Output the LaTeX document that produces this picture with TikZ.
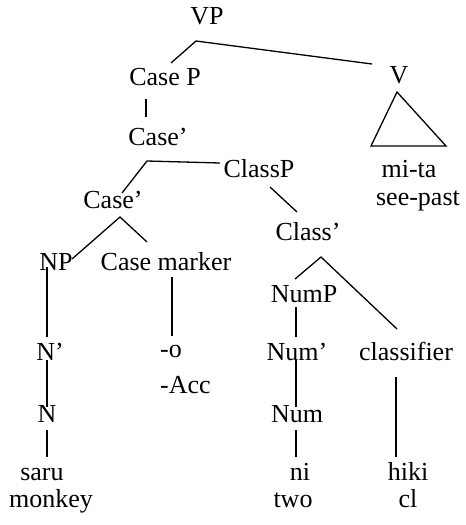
\documentclass[tikz,border=0pt]{standalone}
\usepackage{fontspec}
\setmainfont{Liberation Serif}
\usepackage{tikz}
\usetikzlibrary{positioning, calc}

\begin{document}
\begin{tikzpicture}[x=1pt, y=-1pt,
    word/.style={anchor=base, inner sep=0pt, font=\fontsize{26}{31}\selectfont},
    branch/.style={line width=1.3pt}]
          \useasboundingbox (0,0) rectangle (466,525);

          \node[word] (vp) at (207,24) {VP};
          \node[word] (casep) at (165,85) {Case P};
          \node[word] (v) at (399,83) {V};
          \node[word] (casebar1) at (158,145) {Case'};
          \node[word] (mita) at (409,177) {mi-ta};
          \node[word] (seepast) at (418,205) {see-past};
          \node[word] (classp) at (259,177) {ClassP};
          \node[word] (casebar2) at (113,208) {Case'};
          \node[word] (classbar) at (308,240) {Class'};
          \node[word] (np) at (56,270) {NP};
          \node[word] (casemarker) at (166,270) {Case marker};
          \node[word] (nump) at (304,302) {NumP};
          \node[word] (nbar) at (50,360) {N'};
          \node[word, anchor=base west] (o) at (160,357) {-o};
          \node[word, anchor=base west] (acc) at (160,393) {-Acc};
          \node[word] (numbar) at (297,360) {Num'};
          \node[word] (classifier) at (406,360) {classifier};
          \node[word] (n) at (47,422) {N};
          \node[word] (num) at (297,422) {Num};
          \node[word] (saru) at (42,480) {saru};
          \node[word] (monkey) at (51,507) {monkey};
          \node[word] (ni) at (300,480) {ni};
          \node[word] (two) at (293,507) {two};
          \node[word] (hiki) at (408,480) {hiki};
          \node[word] (cl) at (408,507) {cl};

          % upper part of the tree
          \draw[branch] ([shift={(6,-22)}]casep.base) -- ([shift={(-11,17)}]vp.base) -- ([shift={(-27,-19)}]v.base);
          \draw[branch] ([shift={(-19,14)}]casep.base) -- ([shift={(-12,-28)}]casebar1.base);
          \draw[branch] ([shift={(9,-15)}]casebar2.base) -- ([shift={(-11,16)}]casebar1.base) -- ([shift={(-39,-14)}]classp.base);
          \draw[branch] ([shift={(16,-11)}]np.base) -- ([shift={(7,9)}]casebar2.base) -- ([shift={(-19,-28)}]casemarker.base);
          \draw[branch] ([shift={(11,10)}]classp.base) -- ([shift={(-11,-28)}]classbar.base);
          \draw[branch] ([shift={(-9,-23)}]nump.base) -- ([shift={(13,17)}]classbar.base) -- ([shift={(-9,-31)}]classifier.base);
          \draw[branch] ([shift={(-2,9)}]v.base) -- ([shift={(-38,-31)}]mita.base) -- ([shift={(37,-31)}]mita.base) -- cycle;

          % lower part
          \draw[branch] ([shift={(-9,-3)}]np.base) -- ([shift={(-3,-23)}]nbar.base);
          \draw[branch] ([shift={(-3,0)}]nbar.base) -- ([shift={(0,-15)}]n.base);
          \draw[branch] ([shift={(0,8)}]n.base) -- ([shift={(5,-23)}]saru.base);
          \draw[branch] ([shift={(6,7)}]casemarker.base) -- ([shift={(12,-21)}]o.base west);
          \draw[branch] ([shift={(-8,5)}]nump.base) -- ([shift={(-1,-23)}]numbar.base);
          \draw[branch] ([shift={(-1,0)}]numbar.base) -- ([shift={(-1,-15)}]num.base);
          \draw[branch] ([shift={(-1,8)}]num.base) -- ([shift={(-4,-23)}]ni.base);
          \draw[branch] ([shift={(-10,17)}]classifier.base) -- ([shift={(-12,-23)}]hiki.base);
        \end{tikzpicture}
\end{document}
